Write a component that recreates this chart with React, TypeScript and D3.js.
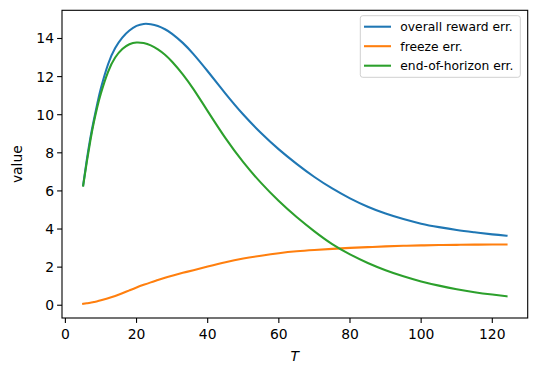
import React from "react";
import * as d3 from "d3";

const T = [5, 6, 7, 8, 9, 10, 12, 14, 16, 18, 20, 22, 24, 26, 28, 30, 33, 36, 40, 45, 50, 55, 60, 65, 70, 75, 80, 85, 90, 95, 100, 105, 110, 115, 120, 124];
const overall = [6.3, 7.6, 8.75, 9.72, 10.6, 11.4, 12.65, 13.5, 14.05, 14.42, 14.66, 14.765, 14.75, 14.656, 14.486, 14.246, 13.77, 13.18, 12.28, 11.11, 10.01, 9.04, 8.18, 7.42, 6.73, 6.13, 5.61, 5.17, 4.81, 4.52, 4.28, 4.1, 3.95, 3.83, 3.72, 3.65];
const freeze = [0.07, 0.1, 0.13, 0.17, 0.21, 0.26, 0.37, 0.49, 0.63, 0.78, 0.93, 1.07, 1.2, 1.32, 1.44, 1.55, 1.7, 1.84, 2.03, 2.26, 2.45, 2.6, 2.73, 2.83, 2.9, 2.96, 3.01, 3.05, 3.09, 3.12, 3.14, 3.16, 3.17, 3.18, 3.19, 3.19];
const endHorizon = [6.28, 7.5, 8.62, 9.6, 10.43, 11.13, 12.25, 13.0, 13.45, 13.7, 13.79, 13.76, 13.64, 13.43, 13.15, 12.78, 12.12, 11.34, 10.19, 8.77, 7.51, 6.42, 5.47, 4.63, 3.88, 3.21, 2.67, 2.22, 1.84, 1.52, 1.25, 1.03, 0.84, 0.685, 0.56, 0.47];

const seriesNames = ["overall reward err.", "freeze err.", "end-of-horizon err."];
const seriesValues = [overall, freeze, endHorizon];
const colors = ["#1f77b4", "#ff7f0e", "#2ca02c"];
const xTicks = [0, 20, 40, 60, 80, 100, 120];
const yTicks = [0, 2, 4, 6, 8, 10, 12, 14];

export default function App() {
  const left = 62, right = 527.7, top = 10.3, bottom = 318;
  const x = d3.scaleLinear().domain([-0.95, 129.95]).range([left, right]);
  const y = d3.scaleLinear().domain([-0.67, 15.48]).range([bottom, top]);
  const line = d3.line<number>()
    .x((_, i) => x(T[i]))
    .y((d) => y(d))
    .curve(d3.curveNatural);
  const font = "DejaVu Sans, sans-serif";
  return (
    <svg width={536} height={374} style={{ position: "absolute", left: 0, top: 0 }} fontFamily={font}>
      <rect width={536} height={374} fill="#fff" />
      {seriesValues.map((vals, k) => (
        <path key={k} d={line(vals) || ""} fill="none" stroke={colors[k]} strokeWidth={2.08} strokeLinecap="square" strokeLinejoin="round" />
      ))}
      <rect x={left} y={top} width={right - left} height={bottom - top} fill="none" stroke="#000" strokeWidth={1.1} />
      {xTicks.map((t) => (
        <g key={t}>
          <line x1={x(t)} x2={x(t)} y1={bottom} y2={bottom + 4.9} stroke="#000" strokeWidth={1.1} />
          <text x={x(t)} y={bottom + 21} textAnchor="middle" fontSize={13.9} fill="#000">{t}</text>
        </g>
      ))}
      {yTicks.map((t) => (
        <g key={t}>
          <line x1={left - 4.9} x2={left} y1={y(t)} y2={y(t)} stroke="#000" strokeWidth={1.1} />
          <text x={left - 8} y={y(t) + 5} textAnchor="end" fontSize={13.9} fill="#000">{t}</text>
        </g>
      ))}
      <text x={(left + right) / 2} y={361} textAnchor="middle" fontSize={13.9} fontStyle="italic">T</text>
      <text transform={`translate(22,${(top + bottom) / 2}) rotate(-90)`} textAnchor="middle" fontSize={13.9}>value</text>
      <rect x={360.3} y={15.7} width={160} height={61.6} rx={2.5} fill="#fff" fillOpacity={0.8} stroke="#d0d0d0" strokeWidth={1} />
      {seriesNames.map((n, k) => (
        <g key={n}>
          <line x1={364} x2={391} y1={26.7 + k * 19.5} y2={26.7 + k * 19.5} stroke={colors[k]} strokeWidth={2.08} />
          <text x={400.3} y={26.7 + k * 19.5 + 4.3} fontSize={12.3} fill="#000">{n}</text>
        </g>
      ))}
    </svg>
  );
}
